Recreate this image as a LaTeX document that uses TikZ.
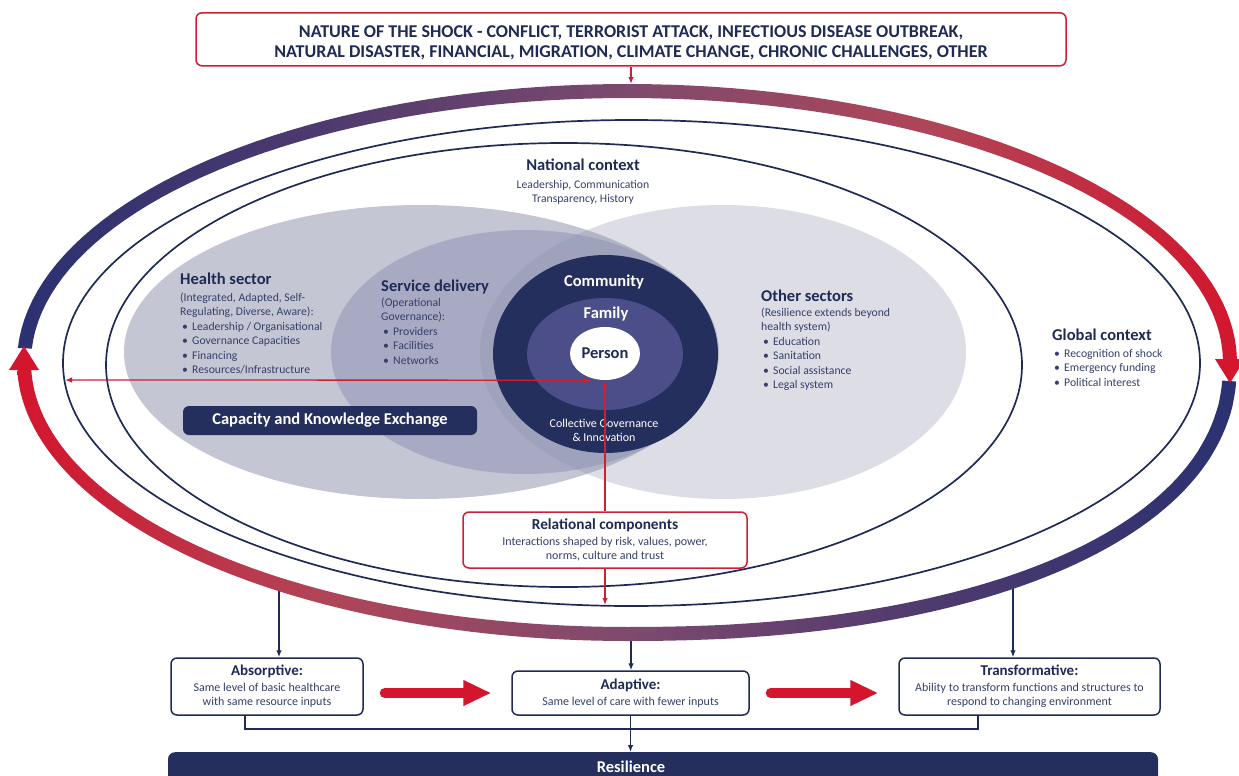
\documentclass[tikz,border=0pt]{standalone}
\usepackage{fontspec}
\setmainfont{Carlito}
\usetikzlibrary{shapes.geometric,arrows.meta,calc}

\definecolor{inkblue}{HTML}{1F2A55}
\definecolor{textblue}{HTML}{363F68}
\definecolor{ringnavy}{HTML}{2B3171}
\definecolor{ringplum}{HTML}{4E3A6E}
\definecolor{ringmid}{HTML}{7E4A6E}
\definecolor{ringrose}{HTML}{B04558}
\definecolor{ringred}{HTML}{D3162D}
\definecolor{linkred}{HTML}{CE1F33}
\definecolor{healthgrey}{HTML}{C4C6D4}
\definecolor{serviceveil}{HTML}{8082AA}
\definecolor{otherveil}{HTML}{8C90AA}
\definecolor{communityblue}{HTML}{252F5E}
\definecolor{familyblue}{HTML}{4C4E8A}

% colour runs of the two halves of the outer ring
\pgfdeclarehorizontalshading{ringLtoR}{100bp}{color(0bp)=(ringnavy); color(25bp)=(ringnavy); color(37.5bp)=(ringplum); color(50bp)=(ringmid); color(62.5bp)=(ringrose); color(75bp)=(ringred); color(100bp)=(ringred)}
\pgfdeclarehorizontalshading{ringRtoL}{100bp}{color(0bp)=(ringred); color(25bp)=(ringred); color(37.5bp)=(ringrose); color(50bp)=(ringmid); color(62.5bp)=(ringplum); color(75bp)=(ringnavy); color(100bp)=(ringnavy)}

\newcommand{\bul}{\hspace*{2pt}\makebox[10pt][l]{\textbullet}}
\newcommand{\boxhead}[1]{{\fontsize{15}{18}\selectfont\bfseries\color{inkblue}#1}}

\tikzset{
  heading/.style={font=\fontsize{16.5}{19}\selectfont\bfseries, text=inkblue, inner sep=0pt},
  bodytext/.style={font=\fontsize{11.7}{14.5}\selectfont, text=textblue, inner sep=0pt, align=left},
  ringline/.style={ellipse, draw=inkblue, line width=1.7pt, inner sep=0pt},
  blob/.style={ellipse, inner sep=0pt},
  redbox/.style={draw=linkred, line width=1.5pt, rounded corners=6pt, fill=white, inner sep=0pt},
  navybox/.style={draw=inkblue, line width=1.5pt, rounded corners=6pt, fill=white, align=center,
    font=\fontsize{12}{14}\selectfont, text=textblue, inner sep=0pt},
  redlink/.style={draw=linkred, line width=1.3pt},
  navylink/.style={draw=inkblue, line width=1.3pt},
  linktip/.style={-{Latex[length=7pt,width=5.5pt]}},
  bothtips/.style={{Latex[length=7pt,width=5.5pt]}-{Latex[length=7pt,width=5.5pt]}},
  bigarrow/.style={draw=ringred, line width=10pt, line cap=round, -{Triangle[length=28pt,width=24pt]}},
}

\begin{document}
\begin{tikzpicture}[x=1pt,y=-1pt]
\useasboundingbox (0,0) rectangle (1239,776);

% overlapping sector fields
\fill[healthgrey] (421,352) ellipse [x radius=297, y radius=147];
\fill[serviceveil, fill opacity=0.4] (525,352) ellipse [x radius=194, y radius=122];
\fill[otherveil, fill opacity=0.3] (723,352) ellipse [x radius=243, y radius=147];

% community / family / person
\node[blob, fill=communityblue, minimum width=225pt, minimum height=198pt] (community) at (605.5,354) {};
\node[blob, fill=familyblue, minimum width=156pt, minimum height=112pt] (family) at (605,354) {};
\node[blob, fill=white, minimum width=70pt, minimum height=53pt, font=\fontsize{16.5}{19}\selectfont\bfseries, text=inkblue] (person) at (605,353.5) {Person};
\node[heading, text=white, anchor=base] (commlabel) at (604,286) {Community};
\node[heading, text=white, anchor=base] (famlabel) at (606,318) {Family};
\node[font=\fontsize{12}{14.5}\selectfont, text=white, align=center, inner sep=0pt, anchor=north] (collective) at (604,416.8) {\strut Collective Governance\\\& Innovation};

% capacity banner
\node[fill=communityblue, rounded corners=6pt, minimum width=294pt, minimum height=29pt, inner sep=0pt,
  font=\fontsize{16.5}{19}\selectfont\bfseries, text=white] (capacity) at (330,420.5) {Capacity and Knowledge Exchange};

% sector texts
\node[heading, anchor=base west] (healthtitle) at (180,284) {Health sector};
\node[bodytext, anchor=north west] (healthlist) at (180,290.85) {\strut(Integrated, Adapted, Self-\\Regulating, Diverse, Aware):\\\bul Leadership / Organisational\\\bul Governance Capacities\\\bul Financing\\\bul Resources/Infrastructure};
\node[heading, anchor=base west] (servicetitle) at (381,291) {Service delivery};
\node[bodytext, anchor=north west] (servicelist) at (381,295.85) {\strut(Operational\\Governance):\\\bul Providers\\\bul Facilities\\\bul Networks};
\node[heading, anchor=base west] (othertitle) at (761,301) {Other sectors};
\node[bodytext, anchor=north west] (otherlist) at (761,305.85) {\strut(Resilience extends beyond\\health system)\\\bul Education\\\bul Sanitation\\\bul Social assistance\\\bul Legal system};
\node[heading, anchor=base west] (globaltitle) at (1052,340) {Global context};
\node[bodytext, anchor=north west] (globallist) at (1052,346.85) {\strut\bul Recognition of shock\\\bul Emergency funding\\\bul Political interest};
\node[heading, anchor=base] (nationaltitle) at (583,170) {National context};
\node[bodytext, align=center, anchor=north] (nationallist) at (583,177.85) {\strut Leadership, Communication\\Transparency, History};

% context rings
\node[ringline, minimum width=1137pt, minimum height=486pt] (outerring) at (631.5,363) {};
\node[ringline, minimum width=916pt, minimum height=444pt] (innerring) at (564,365) {};

% outcome boxes
\node[navybox, minimum width=192pt, minimum height=57pt] (absorptive) at (267,686.5)
  {\boxhead{Absorptive:}\\[2pt]Same level of basic healthcare\\with same resource inputs};
\node[navybox, minimum width=237pt, minimum height=44pt] (adaptive) at (630.5,693)
  {\boxhead{Adaptive:}\\[2pt]Same level of care with fewer inputs};
\node[navybox, minimum width=261pt, minimum height=57pt] (transformative) at (1029.5,686.5)
  {\boxhead{Transformative:}\\[2pt]Ability to transform functions and structures to\\respond to changing environment};
\node[fill=communityblue, rounded corners=7pt, minimum width=990pt, minimum height=50pt, inner sep=0pt, anchor=north] (resilbar) at (663,752) {};
\node[heading, text=white, anchor=base] (resiltext) at (631,772) {Resilience};

% taps from the ring down to the outcome boxes
\coordinate (absorbtap) at (279,586);
\coordinate (adapttap) at (631,636);
\coordinate (transtap) at (1013,584);
\draw[navylink, linktip] (absorbtap) -- (absorbtap |- absorptive.north);
\draw[navylink, linktip] (adapttap) -- (adapttap |- adaptive.north);
\draw[navylink, linktip] (transtap) -- (transtap |- transformative.north);

% outer ring, upper half: navy on the left turning red on the right
\shade[shading=ringLtoR]
  plot[domain=0.7:177, samples=90] ({627+610*cos(\x)}, {362.5-278.5*sin(\x)})
  -- plot[domain=0.7:177, samples=90] ({627+596*cos(177.7-\x)}, {362.5-264.5*sin(177.7-\x)})
  -- cycle;
% outer ring, lower half: navy on the right turning red on the left
\shade[shading=ringRtoL]
  plot[domain=3:90, samples=60] ({627+610*pow(max(cos(\x),0.0001),0.91)}, {362.5+278.5*pow(max(sin(\x),0.0001),0.91)})
  -- plot[domain=90:178.4, samples=60] ({627+610*cos(\x)}, {362.5+278.5*sin(\x)})
  -- plot[domain=90:178.4, samples=60] ({627+596*cos(268.4-\x)}, {362.5+264.5*sin(268.4-\x)})
  -- plot[domain=3:90, samples=60] ({627+596*pow(max(cos(93-\x),0.0001),0.91)}, {362.5+264.5*pow(max(sin(93-\x),0.0001),0.91)})
  -- cycle;
\fill[ringred] (9,370) -- (24,346) -- (39,370) -- cycle;
\fill[ringred] (1215,359) -- (1230,383) -- (1245,359) -- cycle;

% shock box
\node[redbox, minimum width=870pt, minimum height=53pt] (shockbox) at (631,39.3) {};
\node[font=\fontsize{18}{20}\selectfont\bfseries, text=inkblue, align=center, inner sep=0pt, anchor=north] (shocktext) at (631,23)
  {\strut NATURE OF THE SHOCK - CONFLICT, TERRORIST ATTACK, INFECTIOUS DISEASE OUTBREAK,\\NATURAL DISASTER, FINANCIAL, MIGRATION, CLIMATE CHANGE, CHRONIC CHALLENGES, OTHER};
\coordinate (ringtop) at (631,84);
\draw[redlink, linktip] (shockbox.south) -- (ringtop);

% relational components and the links through the person
\node[redbox, minimum width=284pt, minimum height=56pt, align=center, font=\fontsize{12}{14}\selectfont, text=textblue] (relational) at (605,540)
  {{\fontsize{15.3}{18}\selectfont\bfseries\color{inkblue}Relational components}\\[2pt]Interactions shaped by risk, values, power,\\norms, culture and trust};
\coordinate (ringleft) at (65,380);
\coordinate (ringbottom) at (605,605);
\draw[redlink, bothtips] (ringleft) -- ([xshift=-14pt]person.south);
\draw[redlink, linktip] (relational.north) -- (person.south);
\draw[redlink, linktip] (relational.south) -- (ringbottom);

% progression arrows and the joint to resilience
\draw[bigarrow] ($(absorptive.east |- adaptive.west)+(21,0)$) -- ($(adaptive.west)+(-20,0)$);
\draw[bigarrow] ($(adaptive.east)+(21,0)$) -- ($(transformative.west |- adaptive.east)+(-20,0)$);
\coordinate (merge) at (631,729);
\draw[navylink] ([xshift=-22pt]absorptive.south) |- (merge);
\draw[navylink] ([xshift=-51.5pt]transformative.south) |- (merge);
\draw[navylink, linktip] (adaptive.south) -- (adaptive.south |- resilbar.north);
\end{tikzpicture}
\end{document}
